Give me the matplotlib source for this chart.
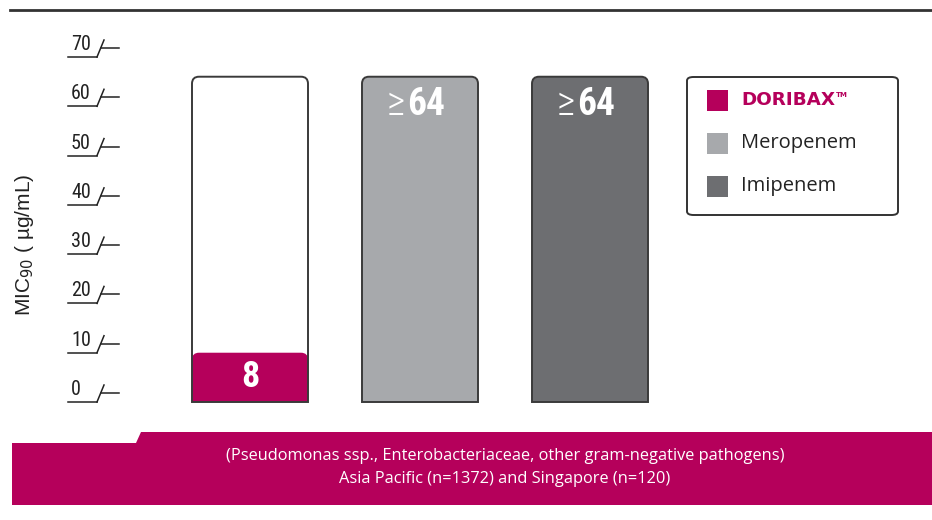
import matplotlib
matplotlib.use("Agg")
import matplotlib.pyplot as plt
from matplotlib import transforms, font_manager
from matplotlib.path import Path
from matplotlib.patches import PathPatch, FancyBboxPatch, Rectangle, Polygon
from matplotlib.lines import Line2D

# datos
farmacos = ["DORIBAX™", "Meropenem", "Imipenem"]
prefijo = ["", "≥", "≥"]
valores = [8, 64, 64]
altura_barra = [66, 66, 66]      # contorno de cada columna
altura_relleno = [10, 66, 66]    # parte coloreada
colores = ["#B5005B", "#A7A9AC", "#6D6E71"]
ticks_y = [0, 10, 20, 30, 40, 50, 60, 70]
nota = ["(Pseudomonas ssp., Enterobacteriaceae, other gram-negative pathogens)",
        "Asia Pacific (n=1372) and Singapore (n=120)"]

# buscar una fuente estrecha si existe
nombres = {f.name for f in font_manager.fontManager.ttflist}
estrecha = dict(family="DejaVu Sans", stretch="condensed")
for cand in ["Liberation Sans Narrow", "Roboto Condensed", "DejaVu Sans Condensed",
             "Open Sans Condensed", "Arial Narrow"]:
    if cand in nombres:
        estrecha = dict(family=cand)
        break

W, H = 932, 520
fig = plt.figure(figsize=(W / 100, H / 100), dpi=100)

def fx(p):
    return p / W

def fy(p):
    return (H - p) / H

# ejes: x de -0.5 a 2.5, y de 0 a 70
ax = fig.add_axes([fx(165), fy(402), 510 / W, 345 / H])
ax.set_xlim(-0.5, 2.5)
ax.set_ylim(0, 70)
ax.axis("off")

px_x = 510 / 3.0     # pixeles por unidad x
px_y = 345 / 70.0    # pixeles por unidad y
ancho = 116 / px_x

def columna(x0, x1, h, r=7):
    rx, ry = r / px_x, r / px_y
    verts = [(x0, 0), (x0, h - ry), (x0, h), (x0 + rx, h), (x1 - rx, h),
             (x1, h), (x1, h - ry), (x1, 0), (x0, 0)]
    codes = [Path.MOVETO, Path.LINETO, Path.CURVE3, Path.CURVE3, Path.LINETO,
             Path.CURVE3, Path.CURVE3, Path.LINETO, Path.CLOSEPOLY]
    return Path(verts, codes)

for i in range(len(farmacos)):
    x0, x1 = i - ancho / 2, i + ancho / 2
    ax.add_patch(PathPatch(columna(x0, x1, altura_barra[i]), facecolor="white",
                           edgecolor="none", zorder=1))
    ax.add_patch(PathPatch(columna(x0, x1, altura_relleno[i]), facecolor=colores[i],
                           edgecolor="none", zorder=2))
    ax.add_patch(PathPatch(columna(x0, x1, altura_barra[i]), facecolor="none",
                           edgecolor="#3a3a3a", linewidth=1.4, zorder=3, clip_on=False))
    if altura_relleno[i] < altura_barra[i]:
        ax.text(i, altura_relleno[i] / 2, str(valores[i]), ha="center", va="center",
                color="white", fontsize=26, fontweight="bold", zorder=4, **estrecha)
    else:
        ax.annotate(prefijo[i], (i, altura_barra[i]), xytext=(-15, -38),
                    textcoords="offset pixels", ha="right", va="baseline",
                    color="white", fontsize=29, fontweight="light", zorder=4,
                    **estrecha)
        ax.annotate(str(valores[i]), (i, altura_barra[i]), xytext=(-13, -38),
                    textcoords="offset pixels", ha="left", va="baseline",
                    color="white", fontsize=27, fontweight="bold", zorder=4,
                    **estrecha)

# marcas del eje y (dibujadas a mano, estilo "corte")
tr = transforms.blended_transform_factory(fig.transFigure, ax.transData)
for v in ticks_y:
    ax.add_line(Line2D([fx(68), fx(97)], [v, v], color="#222", lw=1.1,
                       transform=tr, clip_on=False))
    ax.add_line(Line2D([fx(97), fx(104)], [v, v + 17 / px_y], color="#222", lw=1.1,
                       transform=tr, clip_on=False))
    ax.add_line(Line2D([fx(101), fx(119)], [v + 9 / px_y, v + 9 / px_y], color="#222",
                       lw=1.1, transform=tr, clip_on=False))
    ax.text(fx(71), v + 3 / px_y, str(v), transform=tr, ha="left", va="bottom",
            fontsize=14.5, color="#222", **estrecha)

fig.text(fx(25), fy(245), "MIC$_{90}$ ( µg/mL)", rotation=90, ha="center",
         va="center", fontsize=15, family="Liberation Sans", color="#222")

# linea superior
fig.add_artist(Line2D([fx(10), fx(932)], [fy(10), fy(10)], color="#333", lw=2))

# leyenda
fig.add_artist(FancyBboxPatch((fx(687), fy(215)), 211 / W, 138 / H,
                              boxstyle="round,pad=0,rounding_size=0.007",
                              facecolor="white", edgecolor="#333", lw=1.4,
                              transform=fig.transFigure))
for i, nombre in enumerate(farmacos):
    yc = 100 + i * 43
    fig.add_artist(Rectangle((fx(707), fy(yc + 10.5)), 21 / W, 21 / H,
                             facecolor=colores[i], edgecolor="none",
                             transform=fig.transFigure))
    if i == 0:
        t = fig.text(fx(741), fy(yc), nombre[:-1], ha="left", va="center",
                     fontsize=13.2, fontweight="bold", color=colores[0],
                     family="DejaVu Sans")
        fig.canvas.draw()
        bb = t.get_window_extent()
        fig.text(bb.x1 / W + 1 / W, fy(yc - 5), "TM", ha="left", va="center",
                 fontsize=5, fontweight="bold", color=colores[0], family="DejaVu Sans")
    else:
        fig.text(fx(741), fy(yc), nombre, ha="left", va="center", fontsize=14.5,
                 color="#222", family="Open Sans")

# franja inferior
fig.add_artist(Polygon([(fx(12), fy(443)), (fx(136), fy(443)), (fx(141), fy(432)),
                        (fx(932), fy(432)), (fx(932), fy(505)), (fx(12), fy(505))],
                       closed=True, facecolor=colores[0], edgecolor="none",
                       transform=fig.transFigure))
fig.text(fx(505), fy(456), nota[0], ha="center", va="center", color="white",
         fontsize=11.8, family="Open Sans")
fig.text(fx(505), fy(479), nota[1], ha="center", va="center", color="white",
         fontsize=11.8, family="Open Sans")

fig.savefig("out.png", dpi=100)
